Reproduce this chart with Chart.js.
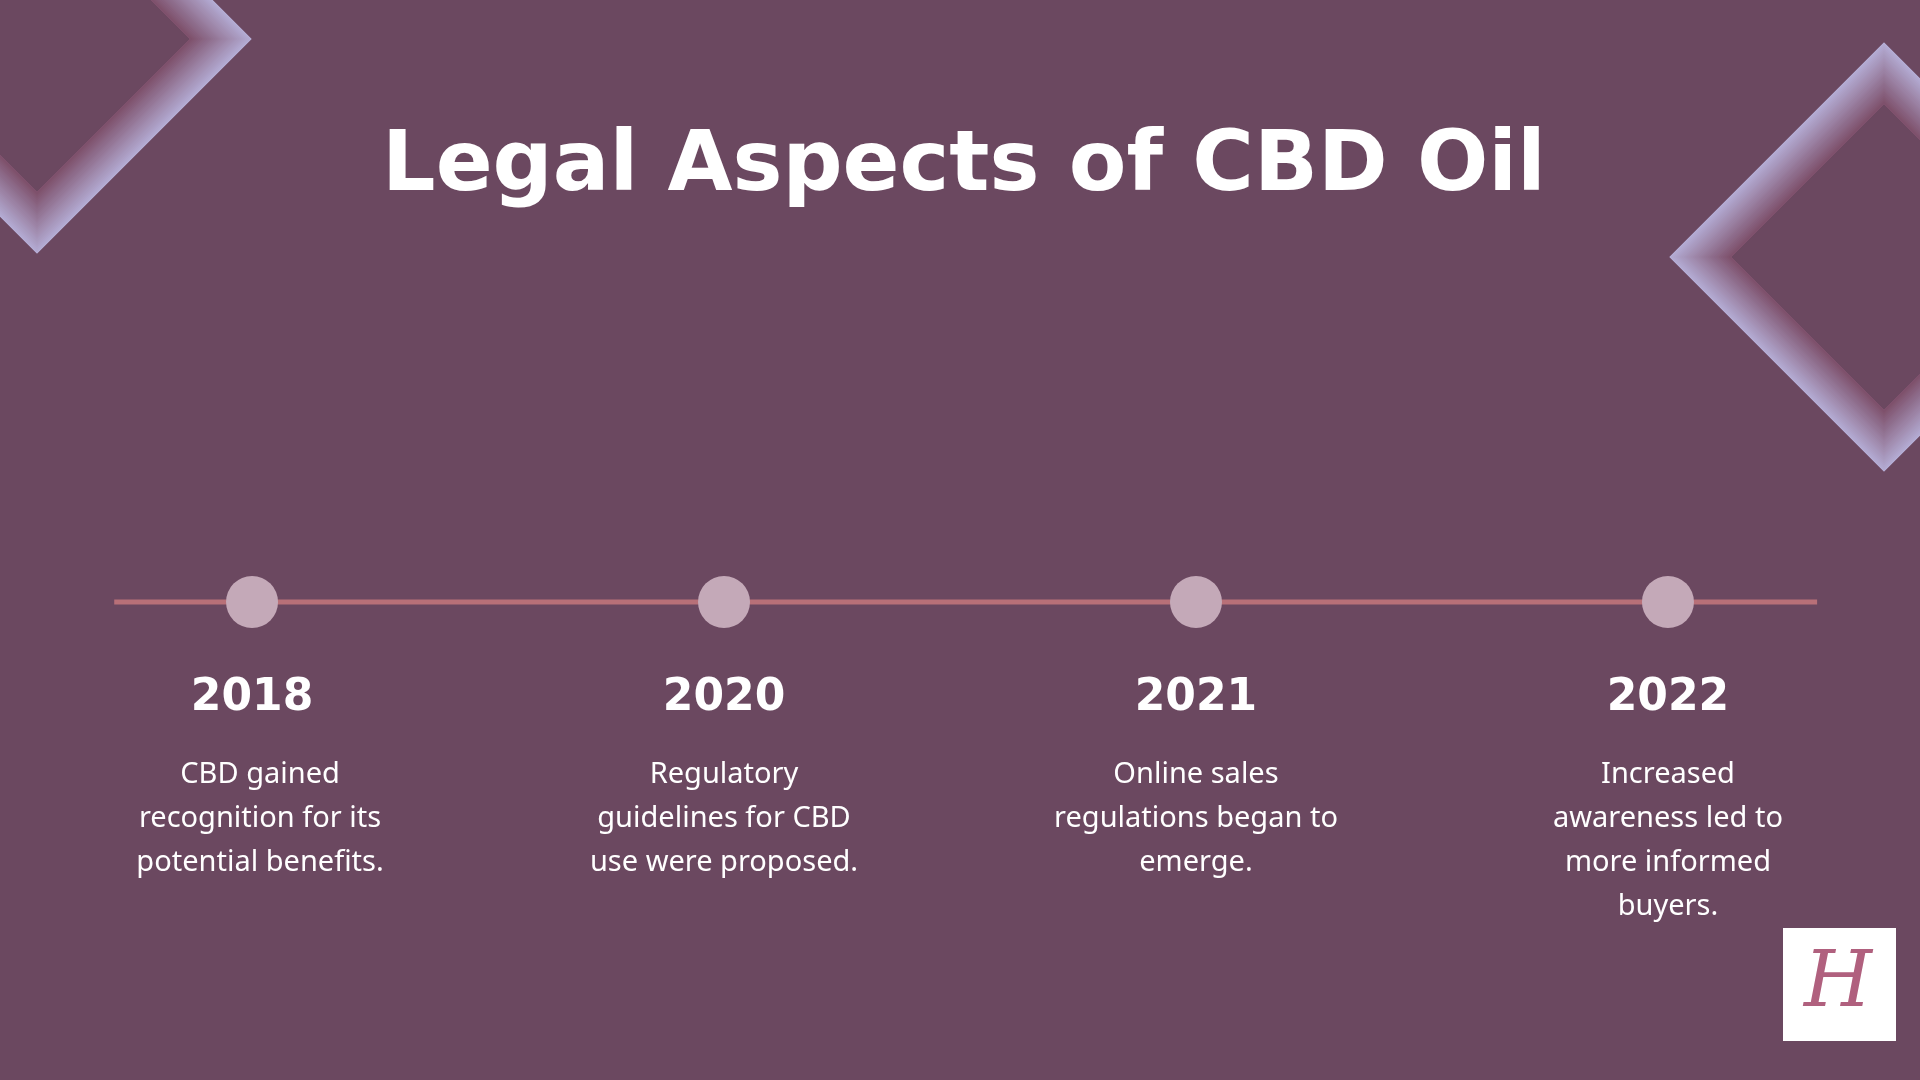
<!DOCTYPE html>
<html><head><meta charset="utf-8">
<script src="https://cdn.jsdelivr.net/npm/chart.js@4.4.0/dist/chart.umd.min.js"></script>
<style>html,body{margin:0;padding:0;background:#6b4860;}#w{width:1920px;height:1080px;}</style>
</head><body><div id="w"><canvas id="c" width="1920" height="1080"></canvas></div>
<script>
const title = "Legal Aspects of CBD Oil";
const years = ["2018", "2020", "2021", "2022"];
const descriptions = [
  ["CBD gained", "recognition for its", "potential benefits."],
  ["Regulatory", "guidelines for CBD", "use were proposed."],
  ["Online sales", "regulations began to", "emerge."],
  ["Increased", "awareness led to", "more informed", "buyers."]
];
const eventIndex = [0, 1, 2, 3];
const lineSpan = [-0.292, 3.316];
const TL_Y = 602;

function diamondFrame(ctx, cx, cy, r, t) {
  ctx.save();
  ctx.beginPath();
  ctx.moveTo(cx, cy - r); ctx.lineTo(cx + r, cy); ctx.lineTo(cx, cy + r); ctx.lineTo(cx - r, cy); ctx.closePath();
  const ri = r - t;
  ctx.moveTo(cx, cy - ri); ctx.lineTo(cx - ri, cy); ctx.lineTo(cx, cy + ri); ctx.lineTo(cx + ri, cy); ctx.closePath();
  ctx.clip('evenodd');
  for (let i = 0; i < 30; i++) {
    const f = i / 29;
    const rr = r - t * f;
    const c1 = [180, 172, 212], c2 = [124, 78, 104];
    const c = c1.map((v, k) => Math.round(v + (c2[k] - v) * f));
    ctx.beginPath();
    ctx.moveTo(cx, cy - rr); ctx.lineTo(cx + rr, cy); ctx.lineTo(cx, cy + rr); ctx.lineTo(cx - rr, cy); ctx.closePath();
    ctx.fillStyle = `rgb(${c.join(',')})`;
    ctx.fill();
  }
  ctx.restore();
}

const deco = {
  id: 'deco',
  beforeDatasetsDraw(chart) {
    const ctx = chart.ctx;
    ctx.save();
    ctx.fillStyle = '#6b4860'; ctx.fillRect(0, 0, 1920, 1080);
    diamondFrame(ctx, 37, 39, 215, 62);
    diamondFrame(ctx, 1884, 257, 215, 62);
    ctx.fillStyle = '#ffffff';
    ctx.font = 'bold 84px "DejaVu Sans"';
    ctx.textAlign = 'center'; ctx.textBaseline = 'alphabetic';
    ctx.fillText(title, 964, 190);
    ctx.restore();
  },
  afterDatasetsDraw(chart) {
    const ctx = chart.ctx, xs = chart.scales.x;
    ctx.save();
    ctx.textAlign = 'center'; ctx.textBaseline = 'middle'; ctx.fillStyle = '#ffffff';
    eventIndex.forEach((idx, i) => {
      const x = xs.getPixelForValue(idx);
      ctx.font = 'bold 44px "DejaVu Sans"';
      ctx.fillText(years[i], x, 699);
      ctx.font = '29px "Noto Sans"';
      descriptions[i].forEach((l, j) => ctx.fillText(l, x + (i === 0 ? 8 : 0), 775 + j * 44));
    });
    ctx.fillStyle = '#ffffff'; ctx.fillRect(1783, 928, 113, 113);
    ctx.fillStyle = '#b0607e'; ctx.font = 'italic 78px "DejaVu Serif"';
    ctx.fillText('H', 1838, 986);
    ctx.restore();
  }
};

new Chart(document.getElementById('c'), {
  type: 'scatter',
  data: { datasets: [
    { data: eventIndex.map(i => ({x: i, y: TL_Y})), pointRadius: 26, pointBackgroundColor: '#c4a9b8', pointBorderWidth: 0, showLine: false },
    { data: lineSpan.map(x => ({x, y: TL_Y})), showLine: true, borderColor: '#b87078', borderWidth: 5, pointRadius: 0 }
  ]},
  plugins: [deco],
  options: {
    responsive: false, animation: false, events: [],
    layout: { padding: 0, autoPadding: false },
    plugins: { legend: { display: false }, tooltip: { enabled: false } },
    scales: {
      x: { type: 'linear', min: -0.534, max: 3.534, display: false },
      y: { type: 'linear', min: 0, max: 1080, reverse: true, display: false }
    }
  }
});
</script></body></html>
